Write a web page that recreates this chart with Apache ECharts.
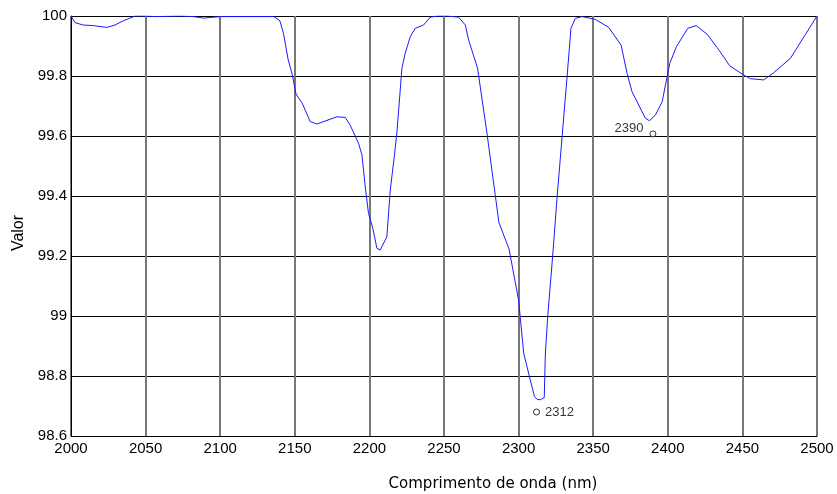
<!DOCTYPE html>
<html>
<head>
<meta charset="utf-8">
<script src="https://cdn.jsdelivr.net/npm/echarts@6/dist/echarts.min.js"></script>
<style>
  html, body { margin: 0; padding: 0; background: #fff; }
  #chart { width: 837px; height: 494px; }
</style>
</head>
<body>
<div id="chart"></div>
<script>
// Reflectance spectrum, wavelength in nm
const wavelengths = [
  2000, 2002.7, 2008, 2015, 2024, 2029.5, 2035, 2043, 2050, 2057, 2073, 2082, 2089, 2100,
  2136, 2140, 2142.4, 2145.5, 2148.5, 2150.8, 2155, 2160.3, 2164.8, 2178.2, 2183.8, 2187,
  2192.7, 2195, 2197.2, 2199.4, 2202.3, 2205, 2207.2, 2211.7, 2214, 2216.8, 2218.4, 2221.8,
  2224, 2227.4, 2230.7, 2236.3, 2240.8, 2245.3, 2252, 2259.8, 2264.3, 2266.5, 2272.5,
  2278.8, 2286.8, 2293.6, 2300, 2303.4, 2307.8, 2310.7, 2312.5, 2314.6, 2317.2, 2317.9,
  2319.5, 2322.8, 2325.7, 2332.5, 2335.1, 2338, 2342.5, 2351.4, 2360.4, 2368.7, 2372.7,
  2376, 2385, 2387.7, 2391.7, 2396.2, 2401.3, 2405.8, 2413.4, 2419, 2426.4, 2434.2,
  2441.5, 2450.9, 2455.4, 2464.3, 2471, 2482.2, 2500
];
const values = [
  100, 99.978, 99.970, 99.968, 99.962, 99.970, 99.984, 100, 100, 99.998, 100, 99.998, 99.993, 99.998,
  99.998, 99.984, 99.942, 99.856, 99.800, 99.740, 99.709, 99.648, 99.640, 99.664, 99.662, 99.637,
  99.576, 99.537, 99.431, 99.342, 99.292, 99.226, 99.220, 99.264, 99.420, 99.537, 99.609, 99.826,
  99.876, 99.931, 99.959, 99.970, 99.996, 100, 100, 99.996, 99.970, 99.920, 99.826,
  99.609, 99.312, 99.223, 99.053, 98.876, 98.787, 98.731, 98.722, 98.721, 98.728, 98.870,
  98.998, 99.198, 99.390, 99.798, 99.959, 99.992, 99.998, 99.989, 99.962, 99.903, 99.809,
  99.748, 99.659, 99.651, 99.670, 99.714, 99.842, 99.898, 99.959, 99.968, 99.939, 99.887,
  99.834, 99.803, 99.791, 99.787, 99.811, 99.859, 100
];

// Absorption feature markers
const featureNames = ['2312', '2390'];
const featureWavelengths = [2312, 2390];
const featureValues = [98.68, 99.607];

const chart = echarts.init(document.getElementById('chart'), null, { renderer: 'canvas' });

const tickFont = { fontFamily: 'Liberation Sans, Arial, sans-serif', fontSize: 15, color: '#000' };

chart.setOption({
  animation: false,
  backgroundColor: '#fff',
  grid: { left: 71, right: 20, top: 16, bottom: 58, containLabel: false, outerBoundsMode: 'none' },
  xAxis: {
    type: 'value',
    min: 2000,
    max: 2500,
    interval: 50,
    name: 'Comprimento de onda (nm)',
    nameLocation: 'middle',
    nameGap: 41,
    nameTextStyle: {
      fontFamily: 'DejaVu Sans, Verdana, sans-serif', fontSize: 15, color: '#000',
      padding: [0, 0, 0, 98]
    },
    axisLine: { show: true, lineStyle: { color: '#000', width: 1 } },
    axisTick: { show: false },
    axisLabel: Object.assign({ margin: 5, formatter: v => String(v) }, tickFont),
    splitLine: { show: true, lineStyle: { color: '#777', width: 2 } }
  },
  yAxis: {
    type: 'value',
    min: 98.6,
    max: 100,
    interval: 0.2,
    name: 'Valor',
    nameLocation: 'middle',
    nameGap: 43,
    nameTextStyle: {
      fontFamily: 'Liberation Sans, Arial, sans-serif', fontSize: 16, color: '#000',
      padding: [0, 14, 0, 0]
    },
    axisLine: { show: true, lineStyle: { color: '#000', width: 1 } },
    axisTick: { show: false },
    axisLabel: Object.assign({
      margin: 4,
      formatter: v => String(parseFloat(v.toFixed(1)))
    }, tickFont),
    splitLine: { show: true, lineStyle: { color: '#000', width: 1 } }
  },
  series: [
    {
      type: 'line',
      data: wavelengths.map((w, i) => [w, values[i]]),
      showSymbol: false,
      smooth: false,
      lineStyle: { color: '#1a1aff', width: 1 },
      z: 3
    },
    {
      type: 'scatter',
      data: featureWavelengths.map((w, i) => ({
        value: [w, featureValues[i]],
        name: featureNames[i],
        label: i === 0
          ? { position: 'right', distance: 5, offset: [0, 0] }
          : { position: 'left', distance: 6, offset: [0, -5] }
      })),
      symbol: 'circle',
      symbolSize: 6,
      itemStyle: { color: '#fff', borderColor: '#000', borderWidth: 1 },
      label: {
        show: true,
        formatter: p => p.name,
        fontFamily: 'Liberation Sans, Arial, sans-serif',
        fontSize: 13,
        color: '#000'
      },
      z: 4
    }
  ]
});
</script>
</body>
</html>
